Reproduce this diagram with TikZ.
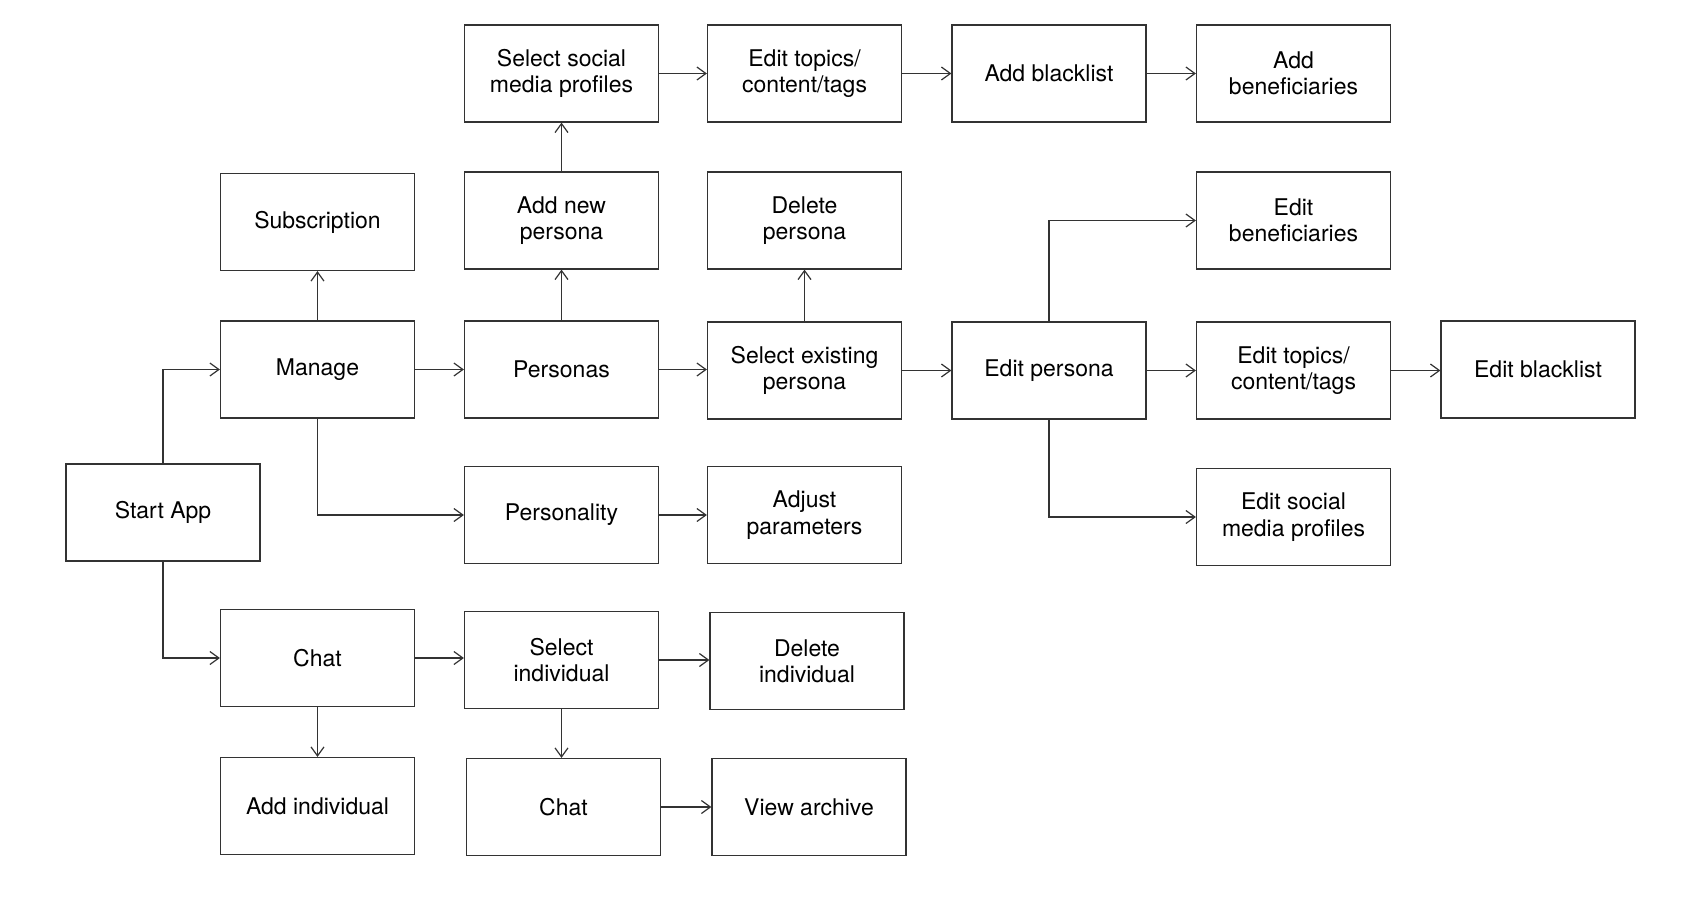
\documentclass[tikz,border=0pt]{standalone}
\usepackage{fontspec}
\setmainfont{TeX Gyre Heros}
\usetikzlibrary{arrows.meta}
\definecolor{linec}{HTML}{333333}
\tikzset{
  box/.style={draw=linec, line width=0.6pt, minimum width=97pt, minimum height=48.5pt,
    inner sep=2pt, align=center, font=\fontsize{11.5}{13.2}\selectfont, text=black},
  arr/.style={draw=linec, line width=0.6pt, -{Straight Barb[length=4.5pt,width=6.5pt]}}
}
\begin{document}
\begin{tikzpicture}[x=0.5pt,y=-0.5pt]
\useasboundingbox (0,0) rectangle (1700,900);
% row 0
\node[box] (selsoc) at (561.5,73.5) {Select social\\media profiles};
\node[box] (edtop1) at (804.5,73.5) {Edit topics/\\content/tags};
\node[box] (addbl) at (1049,73.5) {Add blacklist};
\node[box] (addben) at (1293.5,73.5) {Add\\beneficiaries};
% row 1
\node[box] (subs) at (317.5,222) {Subscription};
\node[box] (addper) at (561.5,220.5) {Add new\\persona};
\node[box] (delper) at (804.5,220.5) {Delete\\persona};
\node[box] (edben) at (1293.5,220.5) {Edit\\beneficiaries};
% row 2
\node[box] (manage) at (317.5,369.5) {Manage};
\node[box] (personas) at (561.5,369.5) {Personas};
\node[box] (selex) at (804.5,370.5) {Select existing\\persona};
\node[box] (edper) at (1049,370.5) {Edit persona};
\node[box] (edtop2) at (1293.5,370.5) {Edit topics/\\content/tags};
\node[box] (edbl) at (1538,369.5) {Edit blacklist};
% row 3
\node[box] (start) at (163,512.5) {Start App};
\node[box] (persty) at (561.5,515) {Personality};
\node[box] (adjust) at (804.5,515) {Adjust\\parameters};
\node[box] (edsoc) at (1293.5,517) {Edit social\\media profiles};
% row 4
\node[box] (chat) at (317.5,658) {Chat};
\node[box] (selind) at (561.5,660) {Select\\individual};
\node[box] (delind) at (807,661) {Delete\\individual};
% row 5
\node[box] (addind) at (317.5,806) {Add individual};
\node[box] (chat2) at (563.5,807) {Chat};
\node[box] (view) at (809,807) {View archive};
% connectors
\draw[arr] (start.north) |- (manage.west);
\draw[arr] (start.south) |- (chat.west);
\draw[arr] (manage.north) -- (manage.north |- subs.south);
\draw[arr] (manage.east) -- (manage.east -| personas.west);
\draw[arr] (manage.south) |- (persty.west);
\draw[arr] (personas.north) -- (personas.north |- addper.south);
\draw[arr] (addper.north) -- (addper.north |- selsoc.south);
\draw[arr] (personas.east) -- (personas.east -| selex.west);
\draw[arr] (selsoc.east) -- (selsoc.east -| edtop1.west);
\draw[arr] (edtop1.east) -- (edtop1.east -| addbl.west);
\draw[arr] (addbl.east) -- (addbl.east -| addben.west);
\draw[arr] (selex.north) -- (selex.north |- delper.south);
\draw[arr] (selex.east) -- (selex.east -| edper.west);
\draw[arr] (edper.north) |- (edben.west);
\draw[arr] (edper.east) -- (edper.east -| edtop2.west);
\draw[arr] (edtop2.east) -- (edtop2.east -| edbl.west);
\draw[arr] (edper.south) |- (edsoc.west);
\draw[arr] (persty.east) -- (persty.east -| adjust.west);
\draw[arr] (chat.east) -- (chat.east -| selind.west);
\draw[arr] (chat.south) -- (chat.south |- addind.north);
\draw[arr] (selind.east) -- (selind.east -| delind.west);
\draw[arr] (selind.south) -- (selind.south |- chat2.north);
\draw[arr] (chat2.east) -- (chat2.east -| view.west);
\end{tikzpicture}
\end{document}
